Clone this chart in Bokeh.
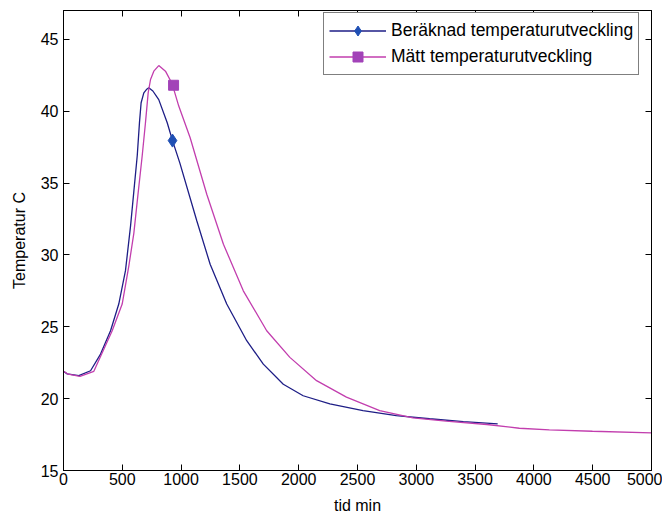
from bokeh.plotting import figure
from bokeh.models import LinearAxis, Legend, LegendItem, Range1d, FixedTicker, CustomJSTickFormatter
from bokeh.embed import file_html
from bokeh.resources import INLINE

# Beräknad temperaturutveckling (calculated)
calc_t = [0, 31, 130, 230, 315, 400, 470, 527, 570, 598, 627, 646, 660, 683, 705, 725, 760,
          810, 882, 927, 989, 1134, 1247, 1388, 1558, 1699, 1869, 2038, 2265, 2547, 2830,
          3113, 3400, 3692]
calc_T = [21.9, 21.72, 21.6, 21.94, 23.1, 24.72, 26.58, 28.9, 32.0, 34.4, 36.9, 39.2, 40.58,
          41.27, 41.5, 41.62, 41.4, 40.8, 39.19, 37.95, 36.4, 32.36, 29.35, 26.58, 24.03, 22.4,
          21.0, 20.2, 19.63, 19.17, 18.82, 18.6, 18.4, 18.24]

# Mätt temperaturutveckling (measured)
meas_t = [0, 40, 140, 258, 414, 499, 555, 598, 632, 669, 697, 720, 740, 768, 810, 867, 924,
          980, 1077, 1219, 1360, 1529, 1728, 1925, 2152, 2406, 2689, 2971, 3254, 3600, 3876,
          4131, 4498, 5000]
meas_T = [21.9, 21.7, 21.55, 21.9, 24.72, 26.58, 29.2, 31.5, 34.1, 36.88, 39.19, 41.27, 42.2,
          42.78, 43.17, 42.78, 41.9, 40.35, 38.15, 34.2, 30.74, 27.5, 24.72, 22.87, 21.25, 20.1,
          19.17, 18.66, 18.43, 18.2, 17.94, 17.83, 17.73, 17.62]

# single marker on each curve
calc_marker_t = [927]
calc_marker_T = [37.95]
meas_marker_t = [936]
meas_marker_T = [41.8]

x_ticks = [0, 500, 1000, 1500, 2000, 2500, 3000, 3500, 4000, 4500, 5000]
y_ticks = [15, 20, 25, 30, 35, 40, 45]

FONT = "Liberation Sans"
FS = "16px"

p = figure(width=662, height=516, output_backend="svg", toolbar_location=None,
           x_range=Range1d(0, 5000), y_range=Range1d(15, 47),
           min_border_left=63, min_border_right=11, min_border_top=10, min_border_bottom=46,
           background_fill_color="white", border_fill_color="white")
p.grid.visible = False
p.outline_line_color = "black"
p.outline_line_width = 1

for ax in (p.xaxis[0], p.yaxis[0]):
    ax.major_label_text_font = FONT
    ax.major_label_text_font_size = FS
    ax.major_label_text_color = "black"
    ax.axis_label_text_font = FONT
    ax.axis_label_text_font_size = FS
    ax.axis_label_text_font_style = "normal"
    ax.axis_label_text_color = "black"
    ax.major_tick_in = 6
    ax.major_tick_out = 0
    ax.minor_tick_line_color = None
    ax.axis_line_color = "black"
    ax.major_tick_line_color = "black"

p.xaxis[0].ticker = FixedTicker(ticks=x_ticks)
p.yaxis[0].ticker = FixedTicker(ticks=y_ticks)
p.xaxis[0].axis_label = "tid min"
p.yaxis[0].axis_label = "Temperatur C"
p.xaxis[0].major_label_standoff = 2
p.xaxis[0].axis_label_standoff = 9
p.yaxis[0].major_label_standoff = 5
p.yaxis[0].axis_label_standoff = 10

# mirrored ticks on top and right (MATLAB box)
blank = CustomJSTickFormatter(code="return ''")
top = LinearAxis(ticker=FixedTicker(ticks=x_ticks), formatter=blank,
                 major_label_text_font_size="1px",
                 major_tick_in=6, major_tick_out=0, minor_tick_line_color=None,
                 major_label_standoff=0)
right = LinearAxis(ticker=FixedTicker(ticks=y_ticks), formatter=blank,
                   major_label_text_font_size="1px",
                   major_tick_in=6, major_tick_out=0, minor_tick_line_color=None,
                   major_label_standoff=0)
p.add_layout(top, "above")
p.add_layout(right, "right")

BLUE_LINE = "#1e1e86"
BLUE_MARK = "#1f4fb4"
PINK_LINE = "#c23eae"
PINK_MARK = "#a243b8"

l1 = p.line(calc_t, calc_T, line_color=BLUE_LINE, line_width=1.3)
l2 = p.line(meas_t, meas_T, line_color=PINK_LINE, line_width=1.3)
m1 = p.scatter(calc_marker_t, calc_marker_T, marker="diamond", size=13,
               fill_color=BLUE_MARK, line_color=BLUE_MARK)
m2 = p.scatter(meas_marker_t, meas_marker_T, marker="square", size=10,
               fill_color=PINK_MARK, line_color=PINK_MARK)

legend = Legend(items=[LegendItem(label="Beräknad temperaturutveckling", renderers=[l1, m1]),
                       LegendItem(label="Mätt temperaturutveckling", renderers=[l2, m2])],
                location=(260, 395),
                label_text_font=FONT, label_text_font_size="17.5px", label_text_color="black",
                border_line_color="black", border_line_width=1,
                background_fill_color="white", background_fill_alpha=1,
                glyph_width=57, glyph_height=25, label_height=25, label_standoff=5,
                spacing=1, padding=5, margin=0)
p.add_layout(legend, "center")

open("out.html", "w").write(file_html(p, INLINE))
